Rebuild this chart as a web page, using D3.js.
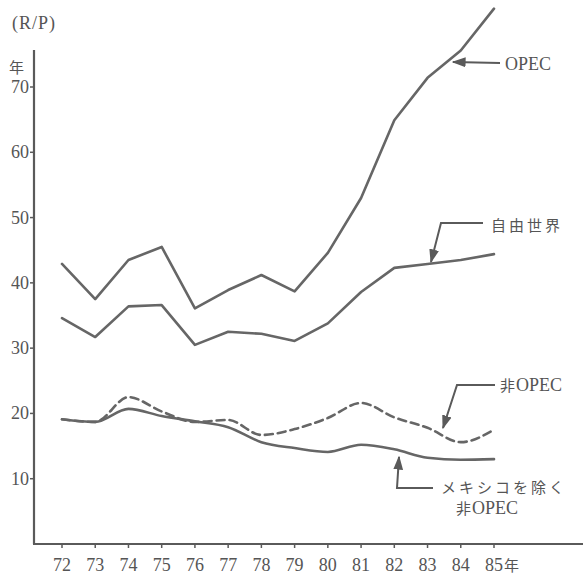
<!DOCTYPE html>
<html><head><meta charset="utf-8">
<script src="https://cdn.jsdelivr.net/npm/d3@7/dist/d3.min.js"></script>
<style>
body{margin:0;background:#fff;}
svg{display:block;}
.num{font-family:"Liberation Serif","DejaVu Serif",serif;font-size:18px;fill:#555;}
.jp{font-family:"Noto Sans CJK JP",sans-serif;font-size:15px;fill:#555;}
</style>
</head><body>
<svg id="c" width="583" height="577"></svg>
<script>
const years = [72,73,74,75,76,77,78,79,80,81,82,83,84,85];
const opec =        [42.9,37.5,43.5,45.5,36.1,38.9,41.2,38.7,44.6,53.0,64.9,71.4,75.6,82.0];
const freeWorld =   [34.6,31.7,36.4,36.6,30.5,32.5,32.2,31.1,33.8,38.6,42.3,42.9,43.5,44.4];
const nonOpec =     [19.1,18.7,22.5,20.3,18.7,19.0,16.7,17.6,19.3,21.6,19.4,17.8,15.6,17.5];
const nonOpecExMex = [19.1,18.7,20.7,19.6,18.8,17.9,15.6,14.7,14.1,15.2,14.5,13.2,12.9,13.0];
const yTicks = [10,20,30,40,50,60,70];
const xTickLabels = ["72","73","74","75","76","77","78","79","80","81","82","83","84","85"];

const svg = d3.select("#c");
const x = d3.scaleLinear().domain([72,85]).range([62,494]);
const y = d3.scaleLinear().domain([0,70]).range([544,87]);
const axisX0 = 34, axisY0 = 544;
const ink = "#5a5a5a";

svg.append("defs").append("marker")
  .attr("id","arr").attr("viewBox","0 0 10 10").attr("refX",9).attr("refY",5)
  .attr("markerWidth",7).attr("markerHeight",7).attr("orient","auto-start-reverse")
  .append("path").attr("d","M0,1.5 L10,5 L0,8.5 Z").attr("fill",ink);

svg.append("line").attr("x1",axisX0).attr("x2",axisX0).attr("y1",50).attr("y2",axisY0)
  .attr("stroke",ink).attr("stroke-width",2.2);
svg.append("line").attr("x1",axisX0-1).attr("x2",583).attr("y1",axisY0).attr("y2",axisY0)
  .attr("stroke",ink).attr("stroke-width",2.2);

const ya = svg.append("g");
yTicks.forEach(t=>{
  ya.append("line").attr("x1",axisX0-4).attr("x2",axisX0).attr("y1",y(t)).attr("y2",y(t))
    .attr("stroke",ink).attr("stroke-width",1.5);
  ya.append("text").attr("class","num").attr("x",axisX0-5).attr("y",y(t)+6)
    .attr("text-anchor","end").text(t);
});
years.forEach((yr,i)=>{
  svg.append("line").attr("x1",x(yr)).attr("x2",x(yr)).attr("y1",axisY0).attr("y2",axisY0+4)
    .attr("stroke",ink).attr("stroke-width",1.5);
  svg.append("text").attr("class","num").attr("x",x(yr)).attr("y",axisY0+27)
    .attr("text-anchor","middle").text(xTickLabels[i]);
});
svg.append("text").attr("class","jp").attr("x",x(85)+10).attr("y",axisY0+27).attr("font-size","16px").text("年");
svg.append("text").attr("class","num").attr("x",12).attr("y",29).attr("font-size","18px").attr("letter-spacing","1px").text("(R/P)");
svg.append("text").attr("class","jp").attr("x",9).attr("y",73).attr("font-size","14px").text("年");

function draw(vals, dashed, curve){
  const gen = d3.line().x((d,i)=>x(years[i])).y(d=>y(d)).curve(curve);
  svg.append("path").attr("d",gen(vals)).attr("fill","none").attr("stroke","#666")
    .attr("stroke-width",2.6).attr("stroke-linejoin","round").attr("stroke-linecap","round")
    .attr("stroke-dasharray",dashed?"8,5":null);
}
draw(opec,false,d3.curveLinear);
draw(freeWorld,false,d3.curveLinear);
draw(nonOpec,true,d3.curveMonotoneX);
draw(nonOpecExMex,false,d3.curveMonotoneX);

function leader(pts){
  svg.append("path").attr("d",d3.line()(pts)).attr("fill","none").attr("stroke",ink)
    .attr("stroke-width",2).attr("marker-end","url(#arr)");
}
leader([[500,63],[453,62]]);
svg.append("text").attr("class","num").attr("x",505).attr("y",70).attr("font-size","17px").text("OPEC");
leader([[483,223],[441,223],[431,262]]);
svg.append("text").attr("class","jp").attr("x",491).attr("y",231).attr("letter-spacing","3px").text("自由世界");
leader([[495,385],[457,385],[443,428]]);
svg.append("text").attr("class","jp").attr("x",500).attr("y",391).text("非");
svg.append("text").attr("class","num").attr("x",516).attr("y",391).attr("font-size","17px").text("OPEC");
leader([[433,488],[397,488],[399,457]]);
svg.append("text").attr("class","jp").attr("x",441).attr("y",493).attr("letter-spacing","3px").text("メキシコを除く");
svg.append("text").attr("class","jp").attr("x",456).attr("y",514).text("非");
svg.append("text").attr("class","num").attr("x",472).attr("y",514).attr("font-size","17px").text("OPEC");
</script>
</body></html>
